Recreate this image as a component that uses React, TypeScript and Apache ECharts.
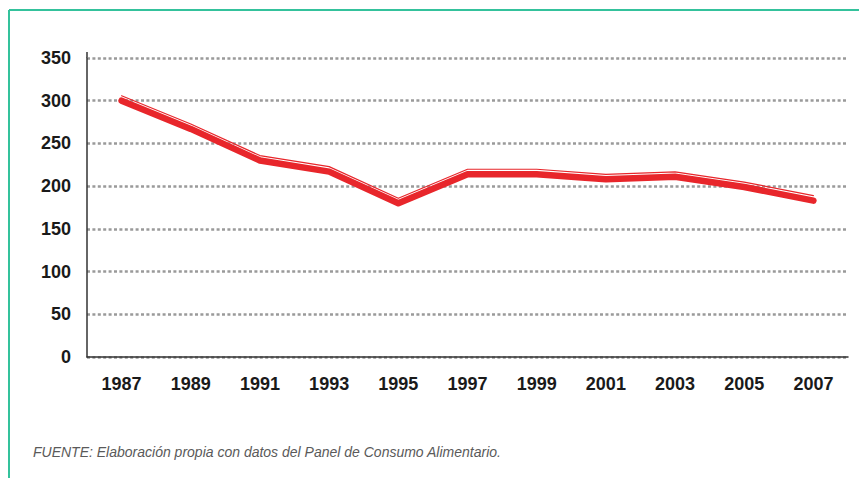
import React, { useEffect, useRef } from "react";
import * as echarts from "echarts";

const years = ["1987", "1989", "1991", "1993", "1995", "1997", "1999", "2001", "2003", "2005", "2007"];
const values = [300, 267, 230, 217, 180, 214, 214, 208, 211, 199, 183];
const yTicks = { min: 0, max: 350, interval: 50 };
const footnote = "FUENTE: Elaboración propia con datos del Panel de Consumo Alimentario.";

const RED = "#e8262b";
const GREEN = "#34c29c";
// hidden axis shifted by a few units so the thin highlight line sits just above the thick line
const HIGHLIGHT_SHIFT = 5.8;

export default function App() {
  const ref = useRef<HTMLDivElement>(null);
  useEffect(() => {
    if (!ref.current) return;
    const chart = echarts.init(ref.current, undefined, { renderer: "svg" });
    chart.setOption({
      animation: false,
      backgroundColor: "#ffffff",
      grid: { left: 87, right: 11, top: 58, bottom: 121, containLabel: false },
      xAxis: {
        type: "category",
        data: years,
        boundaryGap: true,
        axisLine: { show: true, lineStyle: { color: "#333", width: 1.5 } },
        axisTick: { show: false },
        axisLabel: {
          color: "#1a1a1a",
          fontFamily: "Liberation Sans, Arial, sans-serif",
          fontWeight: "bold",
          fontSize: 18,
          margin: 18,
        },
        splitLine: { show: false },
      },
      yAxis: [
        {
          type: "value",
          min: yTicks.min,
          max: yTicks.max,
          interval: yTicks.interval,
          axisLine: { show: true, lineStyle: { color: "#333", width: 1.5 } },
          axisTick: { show: false },
          axisLabel: {
            color: "#1a1a1a",
            fontFamily: "Liberation Sans, Arial, sans-serif",
            fontWeight: "bold",
            fontSize: 18,
            margin: 16,
          },
          splitLine: {
            show: true,
            lineStyle: { color: "#9a9a9a", width: 2.5, type: [3, 2.4] },
          },
        },
        {
          type: "value",
          show: false,
          min: yTicks.min - HIGHLIGHT_SHIFT,
          max: yTicks.max - HIGHLIGHT_SHIFT,
          splitLine: { show: false },
        },
      ],
      series: [
        {
          type: "line",
          data: values,
          yAxisIndex: 1,
          symbol: "none",
          silent: true,
          z: 2,
          lineStyle: { color: RED, width: 1.2, cap: "round", join: "round" },
        },
        {
          type: "line",
          data: values,
          yAxisIndex: 0,
          symbol: "none",
          silent: true,
          z: 3,
          lineStyle: { color: RED, width: 6.5, cap: "round", join: "round" },
        },
      ],
      graphic: [
        { type: "line", shape: { x1: 9, y1: 10, x2: 859, y2: 10 }, style: { stroke: GREEN, lineWidth: 2 } },
        { type: "line", shape: { x1: 9, y1: 10, x2: 9, y2: 478 }, style: { stroke: GREEN, lineWidth: 2 } },
        { type: "line", shape: { x1: 87, y1: 52, x2: 87, y2: 58 }, style: { stroke: "#333", lineWidth: 1.5 } },
        {
          type: "text",
          x: 33,
          y: 452,
          style: {
            text: footnote,
            fill: "#5a5a5a",
            font: "italic 14px 'Liberation Sans', Arial, sans-serif",
            textVerticalAlign: "middle",
          },
        },
      ],
    });
    return () => chart.dispose();
  }, []);
  return (
    <div
      ref={ref}
      style={{ position: "fixed", left: 0, top: 0, width: 859, height: 478, background: "#fff" }}
    />
  );
}
